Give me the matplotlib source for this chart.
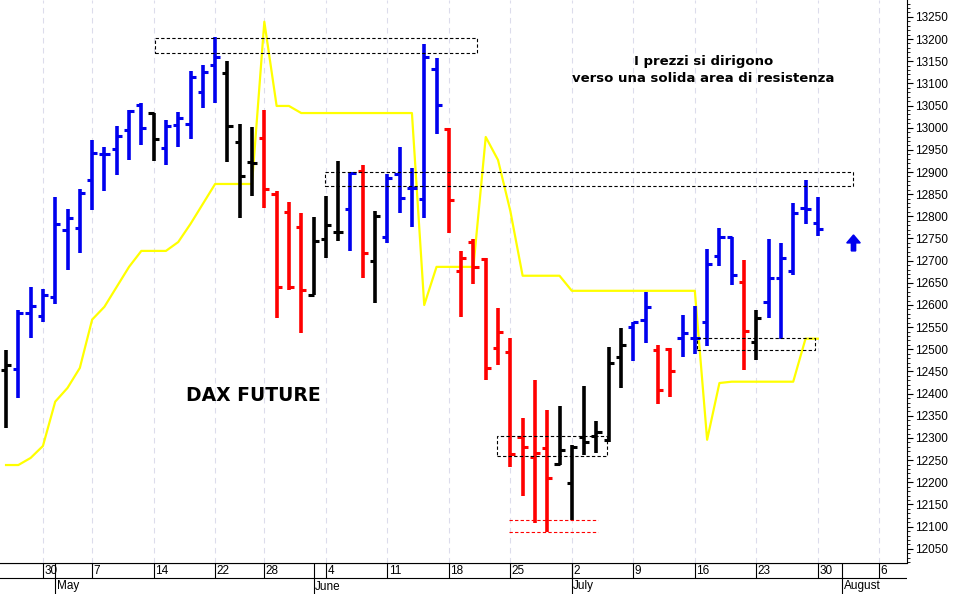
import matplotlib
matplotlib.use("Agg")
import matplotlib.pyplot as plt
from matplotlib.ticker import MultipleLocator
from matplotlib.patches import Rectangle, FancyArrow

plt.rcParams['font.family'] = ['Liberation Sans Narrow', 'Liberation Sans', 'DejaVu Sans']

# daily bars (trading-day index 0..66)
highs = [12499, 12589, 12641, 12636, 12844, 12817, 12862, 12973, 12957, 13004,
         13040, 13056, 13033, 13018, 13036, 13128, 13142, 13205, 13151, 13009,
         13002, 13040, 12857, 12833, 12808, 12799, 12846, 12925, 12900, 12916,
         12812, 12896, 12957, 12909, 13189, 13157, 13000, 12722, 12749, 12706,
         12594, 12526, 12345, 12431, 12363, 12373, 12285, 12418, 12339, 12506,
         12548, 12562, 12630, 12510, 12503, 12578, 12598, 12727, 12774, 12754,
         12702, 12589, 12749, 12740, 12830, 12882, 12844]
lows = [12323, 12391, 12526, 12562, 12603, 12679, 12718, 12815, 12857, 12894,
        12927, 12961, 12925, 12916, 12957, 12975, 13045, 13056, 12923, 12797,
        12846, 12819, 12571, 12634, 12537, 12623, 12706, 12745, 12722, 12661,
        12605, 12740, 12808, 12776, 12797, 12986, 12763, 12573, 12648, 12431,
        12465, 12235, 12169, 12109, 12088, 12239, 12115, 12262, 12266, 12291,
        12413, 12474, 12515, 12377, 12393, 12483, 12490, 12508, 12688, 12646,
        12454, 12476, 12571, 12524, 12668, 12783, 12756]
opens = [12454, 12456, 12582, 12576, 12618, 12770, 12774, 12882, 12941, 12952,
         12995, 13051, 13033, 12954, 13006, 13009, 13081, 13142, 13124, 12968,
         12923, 12977, 12851, 12810, 12776, 12623, 12749, 12765, 12817, 12903,
         12700, 12754, 12896, 12864, 12839, 13133, 12997, 12677, 12742, 12704,
         12503, 12494, 12303, 12257, 12278, 12242, 12199, 12303, 12305, 12296,
         12483, 12551, 12567, 12499, 12501, 12526, 12526, 12562, 12711, 12754,
         12652, 12517, 12607, 12661, 12677, 12819, 12785]
closes = [12465, 12582, 12598, 12623, 12783, 12797, 12853, 12943, 12941, 12982,
          13038, 13000, 12975, 13004, 13022, 13115, 13126, 13160, 13004, 12891,
          12921, 12862, 12641, 12641, 12634, 12745, 12781, 12765, 12898, 12718,
          12801, 12887, 12842, 12864, 13160, 13051, 12837, 12706, 12686, 12458,
          12539, 12264, 12280, 12266, 12210, 12273, 12280, 12291, 12314, 12470,
          12510, 12562, 12596, 12409, 12451, 12537, 12526, 12693, 12754, 12668,
          12542, 12571, 12661, 12706, 12808, 12817, 12772]
bar_colors = (['k'] + ['b'] * 11 + ['k'] + ['b'] * 5 + ['k'] * 3 + ['r'] * 4 + ['k'] * 3
              + ['b', 'r', 'k', 'b', 'b', 'b', 'b', 'b'] + ['r'] * 9 + ['k'] * 6
              + ['b', 'b', 'r', 'r', 'b', 'b', 'b', 'b', 'b', 'r', 'k', 'b', 'b', 'b', 'b', 'b'])

# yellow stop line
stop_line = [12239, 12239, 12255, 12282, 12382, 12413, 12458, 12567, 12596, 12641,
             12686, 12722, 12722, 12722, 12742, 12783, 12828, 12873, 12873, 12873,
             12873, 13239, 13049, 13049, 13033, 13033, 13033, 13033, 13033, 13033,
             13033, 13033, 13033, 13033, 12600, 12686, 12686, 12686, 12686, 12979,
             12927, 12812, 12666, 12666, 12666, 12666, 12632, 12632, 12632, 12632,
             12632, 12632, 12632, 12632, 12632, 12632, 12632, 12296, 12424, 12427,
             12427, 12427, 12427, 12427, 12427, 12524, 12524]

tick_pos = [3, 7, 12, 17, 21, 26, 31, 36, 41, 46, 51, 56, 61, 66, 71]
tick_labels = ['30', '7', '14', '22', '28', '4', '11', '18', '25', '2', '9', '16', '23', '30', '6']
month_pos = [4, 25, 46, 68]
month_labels = ['May', 'June', 'July', 'August']

# resistance / support zones: (start, end, low, high)
zones = [(12.1, 38.3, 13169, 13203), (25.9, 68.9, 12869, 12900),
         (39.9, 48.9, 12260, 12305), (56.2, 65.8, 12499, 12526)]
red_lines = [12115, 12088]

W, H = 957, 594
fig = plt.figure(figsize=(W / 100, H / 100), dpi=100)
ax = fig.add_axes([0, 1 - 563 / H, 907 / W, 563 / H])
xlim = (-0.49, 73.25)
ax.set_xlim(*xlim)
ax.set_ylim(12018, 13288)

for x in tick_pos:
    ax.axvline(x, color='#dcdcec', lw=0.8, ls=(0, (5, 4)), zorder=0)

tl = 0.42
for i in range(len(highs)):
    c = {'k': 'black', 'b': '#0000ee', 'r': '#ff0000'}[bar_colors[i]]
    ax.vlines(i, lows[i], highs[i], color=c, lw=2.6, zorder=3)
    ax.hlines(opens[i], i - tl, i, color=c, lw=2.2, zorder=3)
    ax.hlines(closes[i], i, i + tl, color=c, lw=2.2, zorder=3)

ax.plot(range(len(stop_line)), stop_line, color='#ffff00', lw=1.6, zorder=2)

for x0, x1, lo, hi in zones:
    ax.add_patch(Rectangle((x0, lo), x1 - x0, hi - lo, fill=False, ec='black',
                           lw=0.8, ls=(0, (3, 2)), zorder=4))
for y in red_lines:
    ax.hlines(y, 40.9, 48.1, color='red', lw=0.8, ls=(0, (3, 2)), zorder=4)

ax.add_patch(FancyArrow(68.9, 12722, 0, 36, width=0.35, head_width=1.1,
                        head_length=18, length_includes_head=True, color='#0000ee', zorder=5))

bold = dict(fontweight='bold', family=['DejaVu Sans'])
ax.text(56.7, 13150, 'I prezzi si dirigono', ha='center', va='center', fontsize=9.5, **bold)
ax.text(56.7, 13110, 'verso una solida area di resistenza', ha='center', va='center',
        fontsize=9.5, **bold)
ax.text(14.6, 12395, 'DAX FUTURE', ha='left', va='center', fontsize=13.5, **bold)

ax.set_xticks([])
ax.yaxis.tick_right()
ax.yaxis.set_major_locator(MultipleLocator(50))
ax.yaxis.set_minor_locator(MultipleLocator(10))
ax.yaxis.set_major_formatter(matplotlib.ticker.FuncFormatter(lambda v, p: f'{int(v)}'))
ax.tick_params(axis='y', which='major', labelsize=8.5, length=4, pad=2)
ax.tick_params(axis='y', which='minor', length=2)
for s in ax.spines.values():
    s.set_linewidth(0.8)
ax.spines['left'].set_visible(False)
ax.spines['top'].set_visible(False)

# date rows below the chart
axd = fig.add_axes([0, 0, 907 / W, 31 / H])
axd.set_xlim(*xlim)
axd.set_ylim(0, 31)
axd.axis('off')
axd.axhline(16, color='black', lw=0.8)
axd.axhline(31, color='black', lw=0.8)
for x, lab in zip(tick_pos, tick_labels):
    axd.vlines(x, 16, 31, color='black', lw=0.8)
    axd.text(x + 0.12, 23.5, lab, ha='left', va='center', fontsize=8.5)
for x, lab in zip(month_pos, month_labels):
    axd.vlines(x, 0, 31, color='black', lw=0.8)
    axd.text(x + 0.12, 7.5, lab, ha='left', va='center', fontsize=8.5)

fig.savefig('out.png', dpi=100)
